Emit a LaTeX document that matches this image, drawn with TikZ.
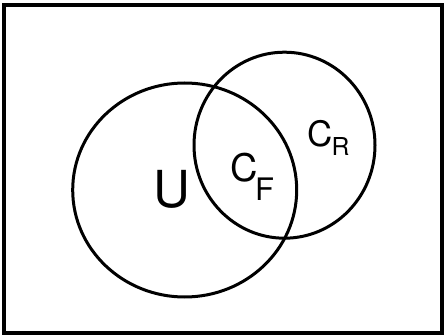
\documentclass[tikz,border=0pt]{standalone}
\usepackage{fontspec}
\setmainfont{TeX Gyre Heros}
\begin{document}
\begin{tikzpicture}[x=1pt,y=-1pt,
  setline/.style={line width=3pt},
  framel/.style={line width=3.6pt},
  lbl/.style={inner sep=0pt,outer sep=0pt}]
\useasboundingbox (0,0) rectangle (444,336);
\node[draw,framel,minimum width=438pt,minimum height=328pt,inner sep=0pt] (frame) at (223,169) {};
\draw[setline] (184.7,190) ellipse [x radius=112, y radius=107];
\draw[setline] (284.5,145.2) ellipse [x radius=90.5, y radius=93];
\node[lbl,font=\fontsize{51}{51}\selectfont] (u) at (172,189.5) {U};
\node[lbl,font=\fontsize{38}{38}\selectfont] (cf) at (244.2,167.5) {C};
\node[lbl,font=\fontsize{31}{31}\selectfont] (f) at (264.7,189.7) {F};
\node[lbl,font=\fontsize{35}{35}\selectfont] (cr) at (319.8,133.7) {C};
\node[lbl,font=\fontsize{24.7}{24.7}\selectfont] (r) at (340.5,146.2) {R};
\end{tikzpicture}
\end{document}
